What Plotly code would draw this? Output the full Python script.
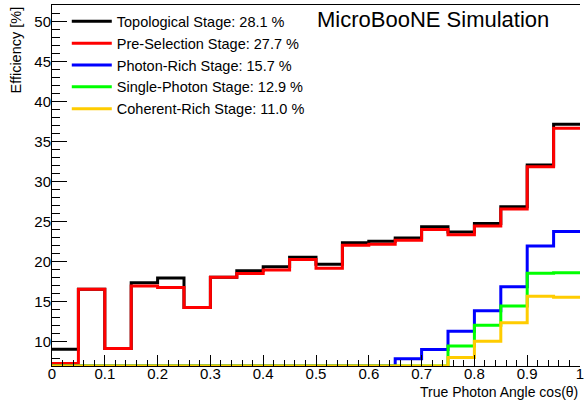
import numpy as np
import plotly.graph_objects as go

# bin edges in cos(theta), 20 bins of 0.05
edges = [round(0.05 * i, 2) for i in range(21)]

topological = [9.1, 16.6, 9.2, 17.4, 18.0, 14.3, 18.1, 18.9, 19.4, 20.6,
               19.7, 22.4, 22.6, 23.0, 24.4, 23.75, 24.8, 26.9, 32.1, 37.2]
preselection = [7.3, 16.6, 9.2, 17.0, 16.8, 14.3, 18.1, 18.55, 19.0, 20.3,
                19.2, 22.1, 22.2, 22.7, 24.05, 23.4, 24.5, 26.6, 31.9, 36.7]
photon_rich = [7.0, 7.0, 7.0, 7.0, 7.0, 7.0, 7.0, 7.0, 7.0, 7.0,
               7.0, 7.0, 7.0, 7.9, 9.05, 11.35, 13.9, 16.9, 22.0, 23.8]
single_photon = [7.0, 7.0, 7.0, 7.0, 7.0, 7.0, 7.0, 7.0, 7.0, 7.0,
                 7.0, 7.0, 7.0, 7.0, 7.0, 9.5, 12.1, 14.5, 18.6, 18.65]
coherent_rich = [7.0, 7.0, 7.0, 7.0, 7.0, 7.0, 7.0, 7.0, 7.0, 7.0,
                 7.0, 7.0, 7.0, 7.0, 7.0, 8.05, 10.1, 12.4, 15.7, 15.6]

series = [
    ("Topological Stage: 28.1 %", topological, "#000000"),
    ("Pre-Selection Stage: 27.7 %", preselection, "#ff0000"),
    ("Photon-Rich Stage: 15.7 %", photon_rich, "#0000ff"),
    ("Single-Photon Stage: 12.9 %", single_photon, "#00ff00"),
    ("Coherent-Rich Stage: 11.0 %", coherent_rich, "#ffcc00"),
]

FONT = "Liberation Sans, Arial, sans-serif"

fig = go.Figure()
for i, (name, vals, col) in enumerate(series):
    fig.add_trace(go.Scatter(
        x=edges, y=vals + [vals[-1]],
        mode="lines", line=dict(shape="hv", color=col, width=3),
        name=name, legendgroup=str(i),
    ))

fig.update_layout(
    width=584, height=401,
    margin=dict(l=52, r=0, t=5, b=35),
    plot_bgcolor="white", paper_bgcolor="white",
    font=dict(family=FONT, size=15, color="black"),
    showlegend=True,
    legend=dict(
        x=0.028, y=0.999, xanchor="left", yanchor="top",
        bgcolor="rgba(0,0,0,0)", font=dict(size=14.5),
        tracegroupgap=0, itemwidth=40,
    ),
    xaxis=dict(
        range=[0, 1], showgrid=False, zeroline=False,
        showline=True, linecolor="black", linewidth=1, mirror=True,
        ticks="inside", ticklen=11, tickcolor="black",
        dtick=0.1, tick0=0, tickangle=0,
        tickfont=dict(size=15), ticklabelstandoff=-6,
        ticklabeloverflow="allow",
        minor=dict(ticks="inside", ticklen=6, dtick=0.02, tickcolor="black"),
    ),
    yaxis=dict(
        range=[7, 52.1], showgrid=False, zeroline=False,
        showline=True, linecolor="black", linewidth=1,
        ticks="inside", ticklen=15, tickcolor="black",
        dtick=5, tick0=0, tickfont=dict(size=15), ticklabelstandoff=-3,
        minor=dict(ticks="inside", ticklen=8, dtick=1, tickcolor="black"),
    ),
)

fig.add_annotation(
    text="MicroBooNE Simulation", xref="paper", yref="paper",
    x=0.722, y=1.0, xanchor="center", yanchor="top",
    showarrow=False, font=dict(size=22),
)
fig.add_annotation(
    text="Efficiency [%]", xref="paper", yref="paper",
    x=-0.070, y=1.0, xanchor="center", yanchor="top", textangle=-90,
    showarrow=False, font=dict(size=14.5),
)
fig.add_annotation(
    text="True Photon Angle cos(θ)", xref="paper", yref="paper",
    x=1.0, y=0, xanchor="right", yanchor="top", yshift=-16,
    showarrow=False, font=dict(size=14),
)

# drop the default page margin so the figure sits at the window corner
fig.write_html("out.html", config={"displayModeBar": False},
               post_script="document.body.style.margin='0';")
